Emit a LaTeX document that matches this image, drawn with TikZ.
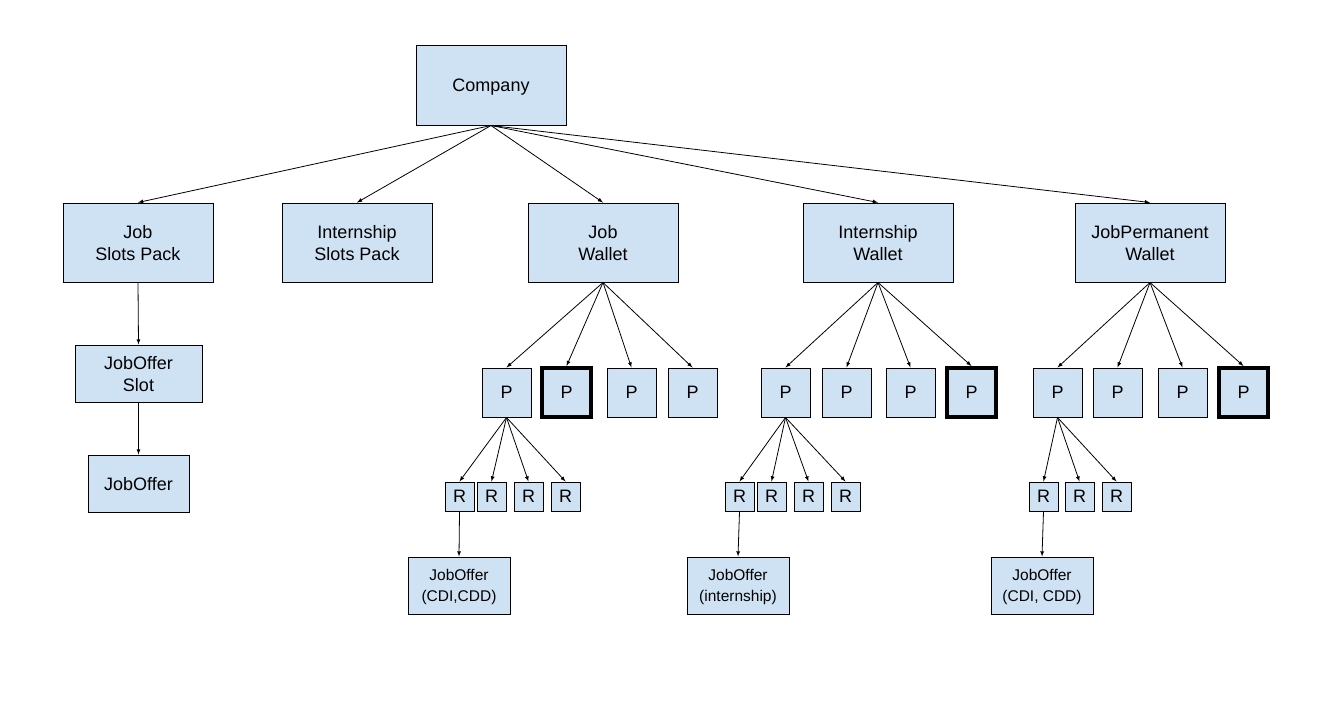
\documentclass[tikz,border=0pt]{standalone}
\usepackage{fontspec}
\setmainfont{Liberation Sans}
\usepackage{xcolor}
\usepackage{tikz}
\usetikzlibrary{arrows,shapes,positioning}

\definecolor{boxblue}{HTML}{CFE2F3}

\tikzset{
    box/.style={draw, fill=boxblue, line width=1pt, align=center, inner sep=0pt,
        text depth=0pt, font=\fontsize{18}{22}\selectfont},
    bigbox/.style={box, minimum width=150pt, minimum height=79pt},
    pbox/.style={box, minimum width=49pt, minimum height=49pt},
    selbox/.style={pbox, line width=4pt},
    rbox/.style={box, minimum width=29pt, minimum height=29pt},
    offerbox/.style={box, minimum width=102pt, minimum height=57pt,
        font=\fontsize{15.5}{21}\selectfont},
    link/.style={->,>=latex, line width=0.8pt}
}

\begin{document}
\begin{tikzpicture}[x=1pt,y=-1pt]
        \useasboundingbox (0,0) rectangle (1325,704);

        \node[bigbox, minimum height=80pt] (Co) at (491,85) {Company};

        \node[bigbox] (JSP) at (138,242.5) {Job\\Slots Pack};
        \node[bigbox] (ISP) at (357,242.5) {Internship\\Slots Pack};
        \node[bigbox] (JW) at (603,242.5) {Job\\Wallet};
        \node[bigbox] (IW) at (878,242.5) {Internship\\Wallet};
        \node[bigbox] (PW) at (1150,242.5) {JobPermanent\\Wallet};

        \node[box, minimum width=127pt, minimum height=57pt] (Slot) at (138.5,373.5) {JobOffer\\Slot};
        \node[box, minimum width=101pt, minimum height=57pt] (Offer) at (138.5,483.5) {JobOffer};

        \node[pbox] (JP1) at (506.5,392.5) {P};
        \node[selbox] (JP2) at (566.5,392.5) {P};
        \node[pbox] (JP3) at (631.5,392.5) {P};
        \node[pbox] (JP4) at (692.5,392.5) {P};

        \node[pbox] (IP1) at (785.5,392.5) {P};
        \node[pbox] (IP2) at (846.5,392.5) {P};
        \node[pbox] (IP3) at (910.5,392.5) {P};
        \node[selbox] (IP4) at (971.5,392.5) {P};

        \node[pbox] (PP1) at (1057.5,392.5) {P};
        \node[pbox] (PP2) at (1117.5,392.5) {P};
        \node[pbox] (PP3) at (1182.5,392.5) {P};
        \node[selbox] (PP4) at (1243.5,392.5) {P};

        \node[rbox] (JR1) at (459.5,496.5) {R};
        \node[rbox] (JR2) at (491.5,496.5) {R};
        \node[rbox] (JR3) at (528.5,496.5) {R};
        \node[rbox] (JR4) at (565.5,496.5) {R};

        \node[rbox] (IR1) at (739.5,496.5) {R};
        \node[rbox] (IR2) at (771.5,496.5) {R};
        \node[rbox] (IR3) at (808.5,496.5) {R};
        \node[rbox] (IR4) at (845.5,496.5) {R};

        \node[rbox] (PR1) at (1043.5,496.5) {R};
        \node[rbox] (PR2) at (1079.5,496.5) {R};
        \node[rbox] (PR3) at (1116.5,496.5) {R};

        \node[offerbox] (JO) at (459,585.5) {JobOffer\\(CDI,CDD)};
        \node[offerbox] (IO) at (738,585.5) {JobOffer\\(internship)};
        \node[offerbox] (PO) at (1042,585.5) {JobOffer\\(CDI, CDD)};

        \draw[link] (Co.south) -- (JSP.north);
        \draw[link] (Co.south) -- (ISP.north);
        \draw[link] (Co.south) -- (JW.north);
        \draw[link] (Co.south) -- (IW.north);
        \draw[link] (Co.south) -- (PW.north);

        \draw[link] (JSP.south) -- (Slot.north);
        \draw[link] (Slot.south) -- (Offer.north);

        \draw[link] (JW.south) -- (JP1.north);
        \draw[link] (JW.south) -- (JP2.north);
        \draw[link] (JW.south) -- (JP3.north);
        \draw[link] (JW.south) -- (JP4.north);

        \draw[link] (IW.south) -- (IP1.north);
        \draw[link] (IW.south) -- (IP2.north);
        \draw[link] (IW.south) -- (IP3.north);
        \draw[link] (IW.south) -- (IP4.north);

        \draw[link] (PW.south) -- (PP1.north);
        \draw[link] (PW.south) -- (PP2.north);
        \draw[link] (PW.south) -- (PP3.north);
        \draw[link] (PW.south) -- (PP4.north);

        \draw[link] (JP1.south) -- (JR1.north);
        \draw[link] (JP1.south) -- (JR2.north);
        \draw[link] (JP1.south) -- (JR3.north);
        \draw[link] (JP1.south) -- (JR4.north);

        \draw[link] (IP1.south) -- (IR1.north);
        \draw[link] (IP1.south) -- (IR2.north);
        \draw[link] (IP1.south) -- (IR3.north);
        \draw[link] (IP1.south) -- (IR4.north);

        \draw[link] (PP1.south) -- (PR1.north);
        \draw[link] (PP1.south) -- (PR2.north);
        \draw[link] (PP1.south) -- (PR3.north);

        \draw[link] (JR1.south) -- (JO.north);
        \draw[link] (IR1.south) -- (IO.north);
        \draw[link] (PR1.south) -- (PO.north);
    \end{tikzpicture}
\end{document}
